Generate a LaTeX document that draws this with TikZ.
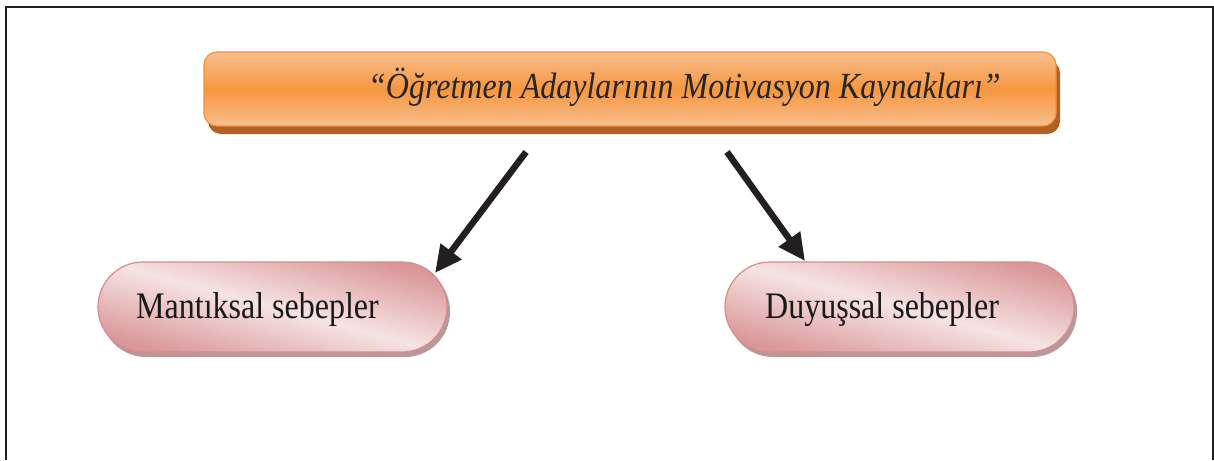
\documentclass[tikz,border=0pt]{standalone}
\usepackage{fontspec}
\setmainfont{Liberation Serif}
\usetikzlibrary{arrows.meta,shapes.misc}
\definecolor{framec}{HTML}{231F20}
\definecolor{orLight}{HTML}{F9BE8E}
\definecolor{orMid}{HTML}{F5973F}
\definecolor{orEdge}{HTML}{F0903A}
\definecolor{orShadow}{HTML}{B05F25}
\definecolor{pkDark}{HTML}{DA9799}
\definecolor{pkLight}{HTML}{F6E3E3}
\definecolor{pkEdge}{HTML}{D98B8E}
\definecolor{pkShadow}{HTML}{B7999A}
\tikzset{
  titlebox/.style={rounded corners=13pt, draw=orEdge, line width=1.2pt,
    top color=orLight, bottom color=orLight, middle color=orMid},
  titleshadow/.style={rounded corners=13pt, fill=orShadow},
  pillbox/.style={rounded corners=45pt, draw=pkEdge, line width=1.2pt,
    top color=pkDark, bottom color=pkDark, middle color=pkLight,
    shading angle=-15},
  pillshadow/.style={rounded corners=45pt, fill=pkShadow},
  pilltext/.style={anchor=base west, inner sep=0pt, font=\fontsize{32}{36}\selectfont, text=black!90},
  titletext/.style={anchor=base west, inner sep=0pt, font=\fontsize{32}{36}\selectfont\itshape, text=black!85},
  bigarrow/.style={line width=6.5pt, draw=framec, -{Triangle[length=27pt,width=25pt]}}
}
\begin{document}
\begin{tikzpicture}[x=1pt,y=-1pt]
\useasboundingbox (0,0) rectangle (1214,460);
% outer frame, open at the bottom
\draw[framec, line width=2.5pt] (6,460) -- (6,7) -- (1213,7) -- (1213,460);

% title box
\fill[titleshadow] (208,60) rectangle (1060,134);
\path[titlebox] (204,52) rectangle (1056,126);
\node[titletext] (title) at (368,98) {\scalebox{1}[1.15]{“Öğretmen Adaylarının Motivasyon Kaynakları”}};

% left and right pills
\fill[pillshadow] (101,266) rectangle (450,357);
\path[pillbox] (98,262) rectangle (447,352);
\node[pilltext] (mantiksal) at (136,318) {\scalebox{1}[1.17]{Mantıksal sebepler}};

\fill[pillshadow] (728,266) rectangle (1077,357);
\path[pillbox] (725,262) rectangle (1074,352);
\node[pilltext] (duyussal) at (765,318) {\scalebox{1}[1.17]{Duyuşsal sebepler}};

% connectors
\coordinate (ls) at (526,152);
\coordinate (le) at (435,273);
\coordinate (rs) at (727,152);
\coordinate (re) at (805,261);
\draw[bigarrow] (ls) -- (le);
\draw[bigarrow] (rs) -- (re);
\end{tikzpicture}
\end{document}
